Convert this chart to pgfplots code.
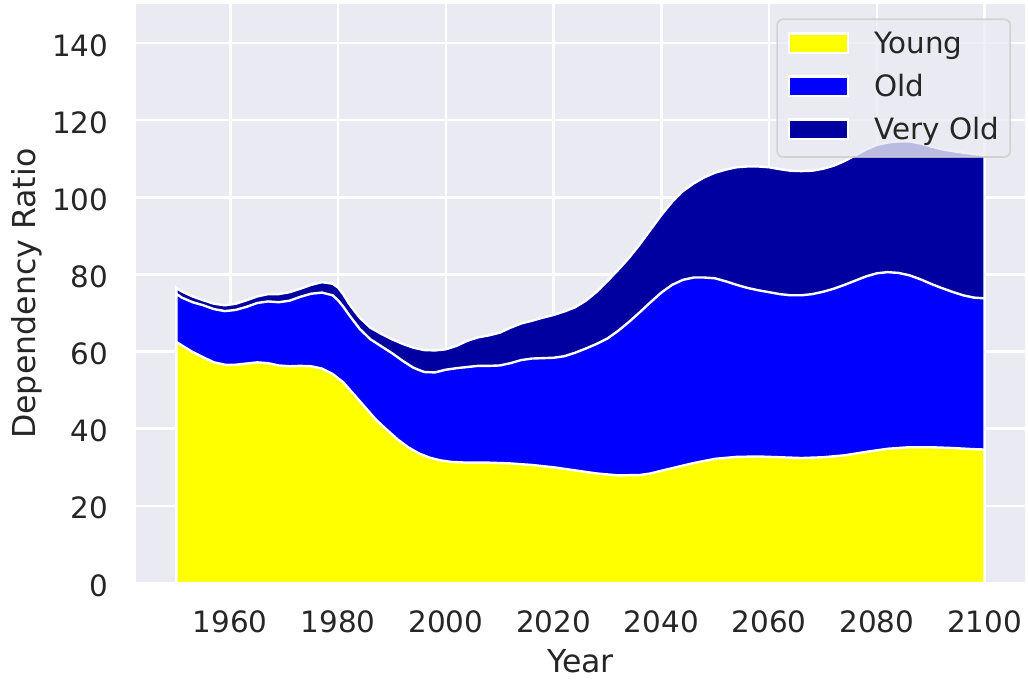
\documentclass[border=0pt]{standalone}
\usepackage{fontspec}
\setmainfont{DejaVu Sans}
\usepackage{pgfplots}
\pgfplotsset{compat=1.18}
\definecolor{bgc}{HTML}{EAEAF2}
\definecolor{txt}{HTML}{262626}
\definecolor{cYoung}{HTML}{FFFF00}
\definecolor{cOld}{HTML}{0000FF}
\definecolor{cVeryOld}{HTML}{0000A0}
\definecolor{legedge}{HTML}{CCCCCC}

% cumulative tops of the stack
\pgfplotstableread{
year total
1950 76.5
1951 75.6
1953 74.3
1955 73.3
1957 72.4
1959 72.0
1961 72.4
1963 73.3
1965 74.3
1967 74.9
1969 74.9
1971 75.4
1973 76.3
1975 77.3
1977 78.0
1979 77.6
1980 76.6
1981 74.8
1982 72.5
1984 68.8
1986 66.2
1988 64.6
1990 63.2
1992 62.0
1994 61.0
1996 60.4
1998 60.3
2000 60.6
2002 61.5
2004 62.8
2006 63.7
2008 64.2
2010 64.9
2012 66.2
2014 67.3
2016 68.0
2018 68.8
2020 69.5
2022 70.4
2024 71.5
2026 73.2
2028 75.5
2030 78.3
2032 81.2
2034 84.3
2036 87.8
2038 91.6
2040 95.4
2042 98.8
2044 101.6
2046 103.6
2048 105.2
2050 106.4
2052 107.2
2054 107.8
2056 108.0
2058 108.0
2060 107.8
2062 107.3
2064 106.9
2066 106.8
2068 106.9
2070 107.4
2072 108.2
2074 109.4
2076 110.9
2078 112.4
2080 113.6
2082 114.2
2084 114.5
2086 114.5
2088 114.0
2090 113.2
2092 112.5
2094 112.0
2096 111.6
2098 111.2
2100 111.0
}\veryold

\pgfplotstableread{
year old
1950 75.0
1951 74.0
1953 72.8
1955 72.0
1957 71.0
1959 70.5
1961 70.8
1963 71.6
1965 72.6
1967 73.0
1969 72.8
1971 73.2
1973 74.2
1975 75.0
1977 75.3
1979 74.6
1980 73.3
1981 71.6
1982 69.6
1984 65.9
1986 63.2
1988 61.4
1990 59.6
1992 57.6
1994 55.8
1996 54.7
1998 54.6
2000 55.3
2002 55.7
2004 56.0
2006 56.3
2008 56.3
2010 56.4
2012 57.0
2014 57.8
2016 58.2
2018 58.3
2020 58.4
2022 58.8
2024 59.7
2026 60.8
2028 62.0
2030 63.4
2032 65.4
2034 67.7
2036 70.2
2038 72.8
2040 75.3
2042 77.3
2044 78.6
2046 79.2
2048 79.2
2050 79.0
2052 78.2
2054 77.3
2056 76.5
2058 75.9
2060 75.4
2062 74.9
2064 74.6
2066 74.6
2068 74.9
2070 75.5
2072 76.3
2074 77.3
2076 78.4
2078 79.5
2080 80.3
2082 80.6
2084 80.4
2086 79.8
2088 78.8
2090 77.6
2092 76.5
2094 75.5
2096 74.6
2098 74.0
2100 73.8
}\old

\pgfplotstableread{
year young
1950 62.5
1951 61.6
1953 59.9
1955 58.5
1957 57.2
1959 56.6
1961 56.6
1963 56.9
1965 57.2
1967 57.0
1969 56.4
1971 56.2
1973 56.3
1975 56.2
1977 55.6
1979 54.2
1981 52.0
1983 48.8
1985 45.6
1987 42.4
1989 39.8
1991 37.3
1993 35.2
1995 33.6
1997 32.5
1999 31.8
2001 31.4
2004 31.2
2008 31.2
2012 31.0
2016 30.6
2020 30.0
2024 29.2
2028 28.4
2032 27.9
2036 28.0
2038 28.4
2040 29.1
2043 30.1
2046 31.1
2050 32.2
2054 32.7
2058 32.8
2062 32.6
2066 32.4
2070 32.6
2074 33.1
2078 34.0
2082 34.8
2086 35.2
2090 35.2
2094 35.0
2098 34.7
2100 34.6
}\young

\begin{document}
\begin{tikzpicture}
\begin{axis}[
  name=ax,
  scale only axis,
  width=444.5pt, height=289.25pt,
  xmin=1942.5, xmax=2107.5,
  ymin=0, ymax=150,
  xtick={1960,1980,2000,2020,2040,2060,2080,2100},
  xticklabels={1960,1980,2000,2020,2040,2060,2080,2100},
  ytick={0,20,40,60,80,100,120,140},
  yticklabels={0,20,40,60,80,100,120,140},
  major tick length=0pt,
  axis line style={draw=none},
  axis background/.style={fill=bgc},
  grid=major,
  grid style={white, line width=1.3pt},
  tick label style={font=\fontsize{14.7}{17}\selectfont, text=txt},
  xticklabel style={anchor=base, inner sep=0pt, yshift=-25pt},
  yticklabel style={anchor=east, inner sep=0pt, xshift=-13.6pt, yshift=-1.2pt},
  label style={font=\fontsize{15.8}{19}\selectfont, text=txt},
  xlabel={Year},
  xlabel style={at={(axis description cs:0.5,-0.154)}, anchor=base, inner sep=0pt},
  ylabel={Dependency Ratio},
  ylabel style={at={(axis description cs:-0.1136,0.5)}, anchor=base, inner sep=0pt, rotate=0},
  reverse legend,
  legend image code/.code={
    \draw[#1, draw=white, line width=1.1pt, opacity=1, sharp corners] (0pt,0.3pt) rectangle (29.4pt,10pt);
  },
  legend style={
    at={(axis description cs:1,1)}, anchor=north east,
    xshift=-7pt, yshift=-7pt,
    font=\fontsize{14.7}{17}\selectfont,
    text=txt, text opacity=1,
    fill=bgc, fill opacity=0.8, draw=legedge, draw opacity=0.8,
    line width=0.8pt, rounded corners=3pt,
    inner xsep=5.6pt, inner ysep=4pt,
    row sep=3.65pt, column sep=12.5pt,
    nodes={inner sep=0pt, text height=13.15pt, text depth=4.7pt, anchor=base west},
  },
  legend cell align=left,
]
\addplot[fill=cVeryOld, draw=white, line width=1.2pt] table[x=year, y=total] {\veryold} \closedcycle;
\addlegendentry{Very Old}
\addplot[fill=cOld, draw=white, line width=1.2pt] table[x=year, y=old] {\old} \closedcycle;
\addlegendentry{Old}
\addplot[fill=cYoung, draw=white, line width=1.2pt] table[x=year, y=young] {\young} \closedcycle;
\addlegendentry{Young}
\end{axis}
\pgfresetboundingbox
\path (ax.south west) ++(-68pt,-50pt) coordinate (bl);
\path (ax.north east) ++(1.5pt,2.25pt) coordinate (tr);
\useasboundingbox (bl) rectangle (tr);
\end{tikzpicture}
\end{document}
